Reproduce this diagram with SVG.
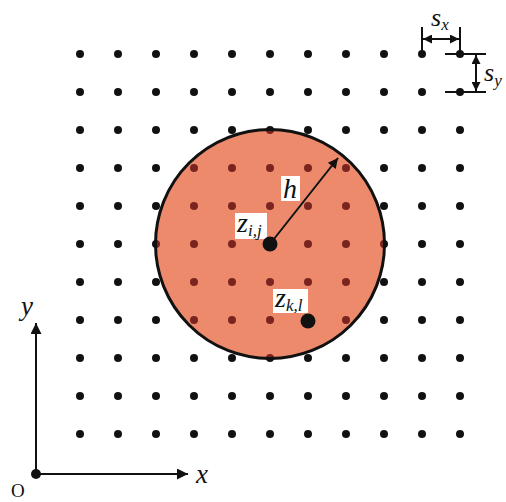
<svg xmlns="http://www.w3.org/2000/svg" width="506" height="502" viewBox="0 0 506 502">
<style>
.ln{stroke:#111;stroke-width:2;fill:none}
.box{fill:#fff}
</style>
<defs>
<pattern id="blk" x="61" y="35" width="38" height="38" patternUnits="userSpaceOnUse">
<circle cx="19" cy="19" r="4" fill="#111"/>
</pattern>
<pattern id="red" x="61" y="35" width="38" height="38" patternUnits="userSpaceOnUse">
<circle cx="19" cy="19" r="4" fill="#7a2420"/>
</pattern>
<marker id="ah" viewBox="0 0 10 10" refX="10" refY="5" markerWidth="14" markerHeight="10" markerUnits="userSpaceOnUse" orient="auto-start-reverse">
<path d="M0,0 L10,5 L0,10 z" fill="#111"/>
</marker>
<marker id="ax" viewBox="0 0 10 10" refX="10" refY="5" markerWidth="17" markerHeight="11" markerUnits="userSpaceOnUse" orient="auto">
<path d="M0,0 L10,5 L0,10 z" fill="#111"/>
</marker>
<marker id="dm" viewBox="0 0 10 10" refX="10" refY="5" markerWidth="10" markerHeight="9" markerUnits="userSpaceOnUse" orient="auto-start-reverse">
<path d="M0,0 L10,5 L0,10 z" fill="#111"/>
</marker>
</defs>
<rect width="506" height="502" fill="#fff"/>
<g id="grid">
<rect x="61" y="35" width="418" height="418" fill="url(#blk)"/>
</g>
<g id="window">
<circle cx="270" cy="244" r="114.5" fill="#ee8a6c"/>
<circle cx="270" cy="244" r="114.5" fill="url(#red)"/>
<circle cx="270" cy="244" r="114.5" fill="none" stroke="#111" stroke-width="3"/>
</g>
<g id="connectors">
<line class="ln" x1="270" y1="244" x2="338" y2="158" marker-end="url(#ah)"/>
<line class="ln" x1="36" y1="474" x2="36" y2="323" stroke-width="2.5" marker-end="url(#ax)"/>
<line class="ln" x1="36" y1="474" x2="188" y2="474" stroke-width="2.5" marker-end="url(#ax)"/>
<line class="ln" x1="422" y1="27" x2="422" y2="54"/>
<line class="ln" x1="460" y1="27" x2="460" y2="54"/>
<line class="ln" x1="423" y1="39" x2="459" y2="39" marker-start="url(#dm)" marker-end="url(#dm)"/>
<line class="ln" x1="445" y1="54" x2="486" y2="54"/>
<line class="ln" x1="445" y1="92" x2="486" y2="92"/>
<line class="ln" x1="476" y1="55" x2="476" y2="91" marker-start="url(#dm)" marker-end="url(#dm)"/>
</g>
<g id="node-zij">
<rect class="box" x="235" y="213" width="32" height="26"/>
<circle cx="270" cy="244" r="7.5" fill="#111"/>
<text x="237" y="232" font-size="28" font-family="Liberation Serif" font-style="italic" fill="#111">z<tspan font-size="17" dy="4">i,j</tspan></text>
</g>
<g id="node-zkl">
<rect class="box" x="273" y="289" width="35" height="24"/>
<circle cx="308" cy="321" r="7.5" fill="#111"/>
<text x="275" y="307" font-size="28" font-family="Liberation Serif" font-style="italic" fill="#111">z<tspan font-size="17" dy="4">k,l</tspan></text>
</g>
<g id="label-h">
<rect class="box" x="281" y="176" width="19" height="25"/>
<text x="283" y="198" font-size="28" font-family="Liberation Serif" font-style="italic" fill="#111">h</text>
</g>
<g id="origin">
<circle cx="36" cy="474" r="5" fill="#111"/>
<text x="11" y="497" font-size="19" font-family="Liberation Serif" fill="#111">O</text>
<text x="21" y="315" font-size="27" font-family="Liberation Serif" font-style="italic" fill="#111">y</text>
<text x="196" y="483" font-size="27" font-family="Liberation Serif" font-style="italic" fill="#111">x</text>
</g>
<g id="dims">
<text x="431" y="26" font-size="26" font-family="Liberation Serif" font-style="italic" fill="#111">s<tspan font-size="17" dy="4">x</tspan></text>
<text x="484" y="81" font-size="26" font-family="Liberation Serif" font-style="italic" fill="#111">s<tspan font-size="17" dy="5">y</tspan></text>
</g>
</svg>
